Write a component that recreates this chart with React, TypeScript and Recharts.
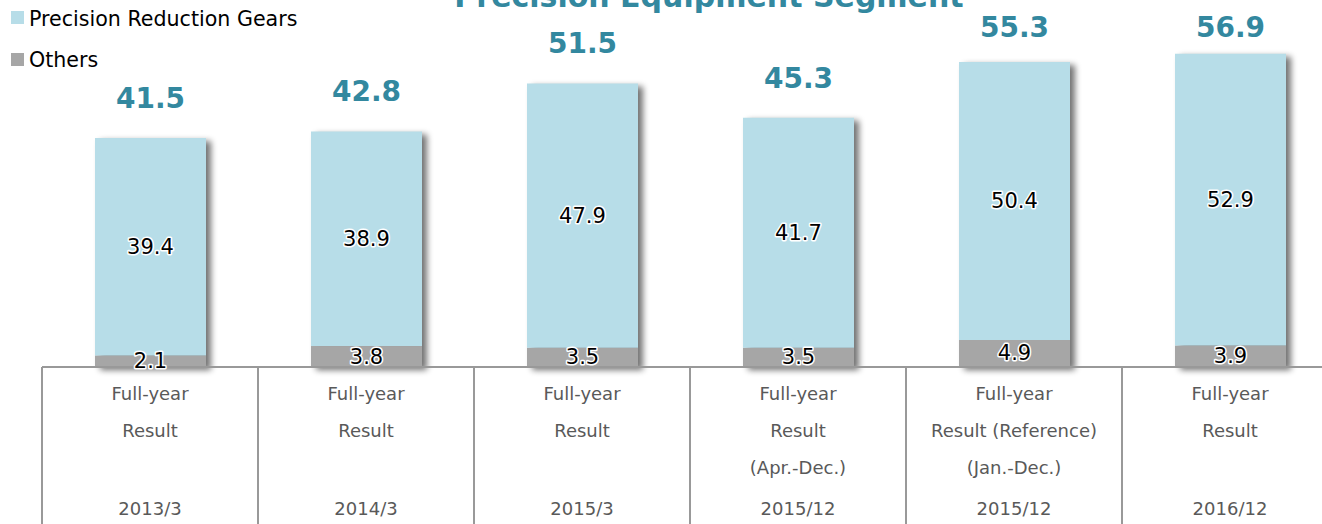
import React from 'react';
import { BarChart, Bar, XAxis, YAxis, LabelList } from 'recharts';

const periods = ['2013/3', '2014/3', '2015/3', '2015/12', '2015/12', '2016/12'];
const descLine1 = ['Full-year', 'Full-year', 'Full-year', 'Full-year', 'Full-year', 'Full-year'];
const descLine2 = ['Result', 'Result', 'Result', 'Result', 'Result (Reference)', 'Result'];
const descLine3 = ['', '', '', '(Apr.-Dec.)', '(Jan.-Dec.)', ''];
const gears = [39.4, 38.9, 47.9, 41.7, 50.4, 52.9];
const others = [2.1, 3.8, 3.5, 3.5, 4.9, 3.9];
const totals = [41.5, 42.8, 51.5, 45.3, 55.3, 56.9];
const seriesNames = ['Precision Reduction Gears', 'Others'];
const title = 'Precision Equipment Segment';

const BLUE = '#B7DDE8';
const GRAY = '#A6A6A6';
const TEAL = '#33889F';
const FONT = 'DejaVu Sans';

const data = periods.map((p, i) => ({
  key: i,
  period: p,
  gears: gears[i],
  others: others[i],
  total: totals[i],
}));

const OthersShape = (props: any) => {
  const { x, y, width, height, payload } = props;
  const unit = height / payload.others;
  const totalH = unit * (payload.others + payload.gears);
  const top = y + height - totalH;
  return (
    <g>
      <rect x={x} y={top} width={width} height={totalH} fill="#000" filter="url(#barShadow)" />
      <rect x={x} y={y} width={width} height={height} fill={GRAY} />
    </g>
  );
};

const InnerLabel = (props: any) => {
  const { x, y, width, height, value } = props;
  const cx = x + width / 2;
  const cy = y + height / 2;
  return (
    <text
      x={cx}
      y={cy + 7}
      textAnchor="middle"
      fontFamily={FONT}
      fontSize={21}
      fill="#000"
      stroke="#fff"
      strokeWidth={3}
      strokeLinejoin="round"
      paintOrder="stroke"
    >
      {value}
    </text>
  );
};

const TotalLabel = (props: any) => {
  const { x, y, width, value } = props;
  const by = Math.max(y - 30, 37);
  return (
    <text
      x={x + width / 2}
      y={by}
      textAnchor="middle"
      fontFamily={FONT}
      fontWeight="bold"
      fontSize={28}
      fill={TEAL}
    >
      {value}
    </text>
  );
};

const TableTick = (props: any) => {
  const { x, y, payload, index } = props;
  const half = payload && payload.offset ? payload.offset : 108;
  const lines = [descLine1[index], descLine2[index], descLine3[index]];
  return (
    <g>
      <line x1={x - half} y1={y} x2={x - half} y2={y + 170} stroke="#999" strokeWidth={2} />
      {lines.map((t, i) =>
        t ? (
          <text key={i} x={x} y={y + 33 + i * 37} textAnchor="middle" fontFamily={FONT} fontSize={18} fill="#595959">
            {t}
          </text>
        ) : null
      )}
      <text x={x} y={y + 148} textAnchor="middle" fontFamily={FONT} fontSize={18} fill="#595959">
        {periods[index]}
      </text>
    </g>
  );
};

export default function App() {
  return (
    <div style={{ position: 'absolute', left: 0, top: 0, width: 1322, height: 524, overflow: 'hidden', background: '#fff' }}>
      <svg width={0} height={0} style={{ position: 'absolute' }}>
        <defs>
          <filter id="barShadow" x="-20%" y="-20%" width="150%" height="150%">
            <feGaussianBlur in="SourceAlpha" stdDeviation="3" />
            <feOffset dx="5" dy="3" result="ob" />
            <feComponentTransfer>
              <feFuncA type="linear" slope="0.55" />
            </feComponentTransfer>
          </filter>
        </defs>
      </svg>
      <BarChart
        width={1340}
        height={524}
        data={data}
        margin={{ top: 36, right: 2, left: 42, bottom: 0 }}
      >
        <XAxis
          dataKey="key"
          height={157}
          interval={0}
          tickLine={false}
          tickSize={0}
          tickMargin={0}
          axisLine={{ stroke: '#999', strokeWidth: 2 }}
          tick={<TableTick />}
        />
        <YAxis hide domain={[0, 60]} />
        <Bar dataKey="others" name={seriesNames[1]} stackId="s" fill={GRAY} barSize={111} shape={<OthersShape />} isAnimationActive={false}>
          <LabelList dataKey="others" content={<InnerLabel />} />
        </Bar>
        <Bar dataKey="gears" name={seriesNames[0]} stackId="s" fill={BLUE} barSize={111} isAnimationActive={false}>
          <LabelList dataKey="gears" content={<InnerLabel />} />
          <LabelList dataKey="total" content={<TotalLabel />} />
        </Bar>
      </BarChart>
      <svg width={1322} height={80} style={{ position: 'absolute', left: 0, top: 0, pointerEvents: 'none' }}>
        <text x={709} y={7} textAnchor="middle" fontFamily={FONT} fontWeight="bold" fontSize={30} fill={TEAL}>
          {title}
        </text>
        <rect x={11} y={11} width={13} height={13} fill={BLUE} />
        <text x={29} y={26} fontFamily={FONT} fontSize={20.6} fill="#000">{seriesNames[0]}</text>
        <rect x={11} y={53} width={13} height={13} fill={GRAY} />
        <text x={29} y={67} fontFamily={FONT} fontSize={20.6} fill="#000">{seriesNames[1]}</text>
      </svg>
    </div>
  );
}
